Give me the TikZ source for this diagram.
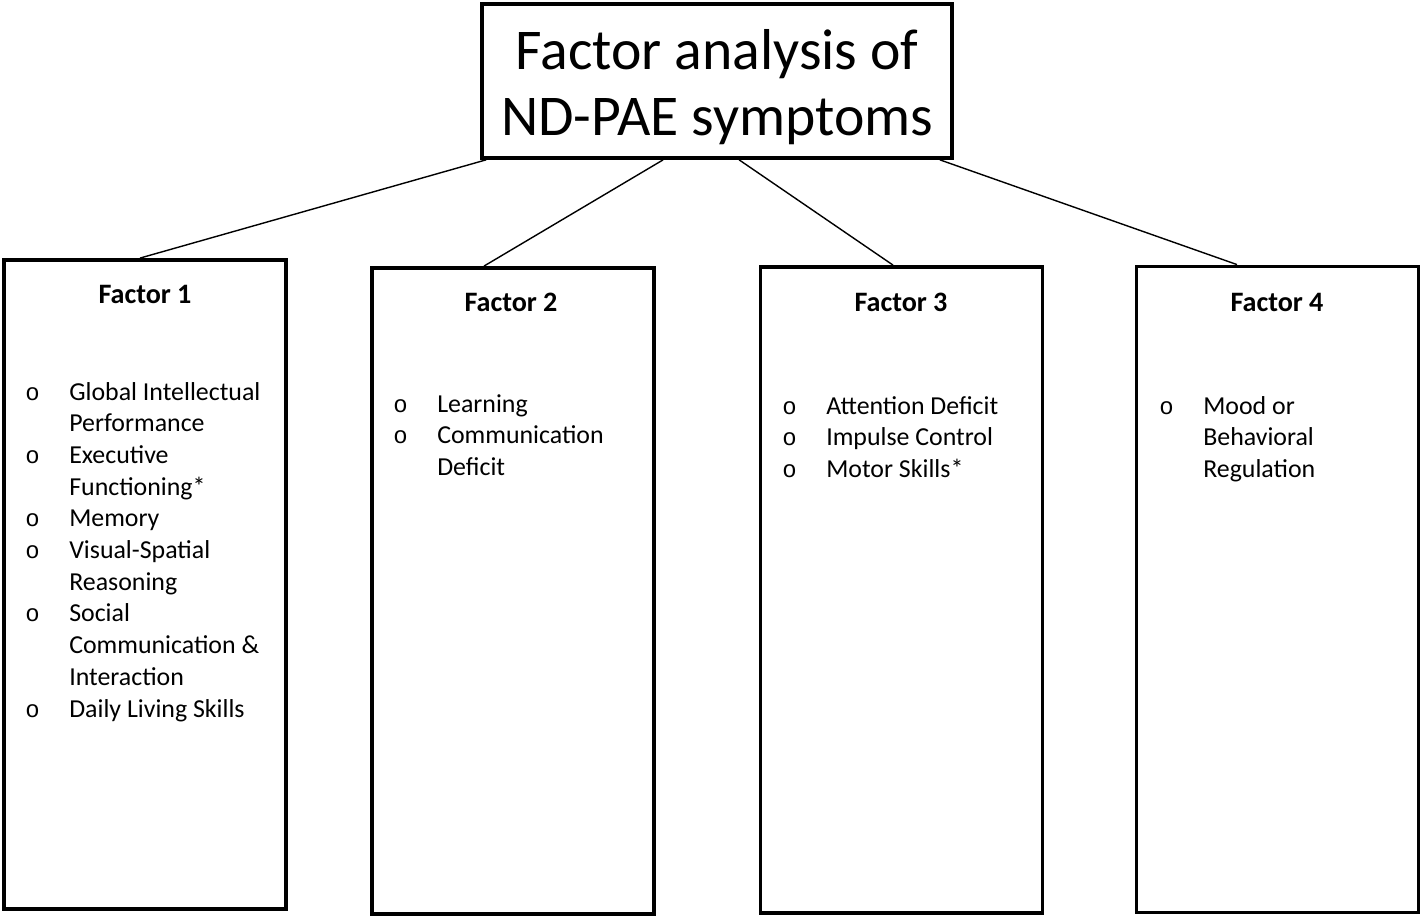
\documentclass[tikz,border=0pt]{standalone}
\usepackage{fontspec}
\setmainfont{Carlito}
\newfontfamily\bulfont{Liberation Mono}
\usepackage{tikz}
\usetikzlibrary{positioning, calc}

\newcommand{\bul}{\makebox[1.1cm][l]{\bulfont\fontsize{17}{17}\selectfont o}}

\begin{document}
\begin{tikzpicture}[
                x=0.025cm, y=-0.025cm,
                titlebox/.style={rectangle, draw, line width=2.6pt, minimum width=11.75cm, minimum height=3.85cm},
                titletext/.style={inner sep=0pt, align=center, font=\fontsize{41}{46.8}\selectfont},
                factorbox/.style={rectangle, draw, line width=2.6pt, minimum width=7.05cm, minimum height=16.15cm},
                heading/.style={inner sep=0pt, font=\bfseries\fontsize{20}{24}\selectfont},
                itemlist/.style={anchor=base west, inner sep=0pt, font=\fontsize{18.4}{22.55}\selectfont},
                link/.style={line width=1pt}
            ]
                \useasboundingbox (0,0) rectangle (1422,919);

                % Title
                \node[titlebox] (title) at (717,81) {};
                \node[titletext] (titletxt) at (717,87) {Factor analysis of\\ND-PAE symptoms};

                % Factor boxes
                \node[factorbox, minimum height=16.225cm] (F1) at (145,584.5) {};
                \node[factorbox] (F2) at (513,591) {};
                \node[factorbox] (F3) at (901.5,590) {};
                \node[factorbox] (F4) at (1277.5,589.5) {};

                % Headings
                \node[heading] (H1) at (145,294) {Factor 1};
                \node[heading] (H2) at (511,302) {Factor 2};
                \node[heading] (H3) at (901,302) {Factor 3};
                \node[heading] (H4) at (1277,302) {Factor 4};

                % Items
                \node[itemlist] (L1) at (25,400) {\begin{tabular}[t]{@{}l@{}l@{}}
                    \bul & Global Intellectual\\ & Performance\\
                    \bul & Executive\\ & Functioning*\\
                    \bul & Memory\\
                    \bul & Visual-Spatial\\ & Reasoning\\
                    \bul & Social\\ & Communication \&\\ & Interaction\\
                    \bul & Daily Living Skills
                \end{tabular}};
                \node[itemlist] (L2) at (393,412) {\begin{tabular}[t]{@{}l@{}l@{}}
                    \bul & Learning\\
                    \bul & Communication\\ & Deficit
                \end{tabular}};
                \node[itemlist] (L3) at (782,414) {\begin{tabular}[t]{@{}l@{}l@{}}
                    \bul & Attention Deficit\\
                    \bul & Impulse Control\\
                    \bul & Motor Skills*
                \end{tabular}};
                \node[itemlist] (L4) at (1159,414) {\begin{tabular}[t]{@{}l@{}l@{}}
                    \bul & Mood or\\ & Behavioral\\ & Regulation
                \end{tabular}};

                % Links
                \draw[link] ($(title.south west)+(6,0)$) -- ($(F1.north)+(-5,0)$);
                \draw[link] ($(title.south west)+(183,0)$) -- ($(F2.north)+(-29,0)$);
                \draw[link] ($(title.south west)+(259,0)$) -- ($(F3.north)+(-8.5,0)$);
                \draw[link] ($(title.south east)+(-14,0)$) -- ($(F4.north)+(-40.5,0)$);
            \end{tikzpicture}
\end{document}
